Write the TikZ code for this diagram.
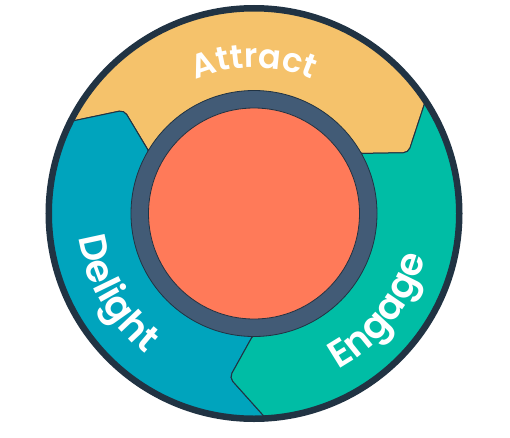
\documentclass[tikz,border=0pt]{standalone}
\usepackage{fontspec}
\setmainfont{Poppins}
\newfontfamily\lblfont{Poppins}[UprightFont=* SemiBold]
\usepackage{tikz}
\usetikzlibrary{decorations.text}
\definecolor{RimDark}{HTML}{213343}
\definecolor{HubSlate}{HTML}{425B76}
\definecolor{HubOrange}{HTML}{FF7A59}
\definecolor{AttractGold}{HTML}{F5C26B}
\definecolor{EngageGreen}{HTML}{00BDA5}
\definecolor{DelightTeal}{HTML}{00A4BD}
\newcommand{\Rout}{206}
\newcommand{\Rtip}{166}
\newcommand{\Rin}{120}
% one arrow-shaped band of the wheel: #1 = angle of its head, #2 = fill
\newcommand{\wheelseg}[2]{%
  \filldraw[seg,fill=#2] (#1+3.5:\Rout)
    arc[start angle=#1+3.5,end angle=#1+123.5,radius=\Rout]
    -- (#1+111.5:\Rtip) -- (#1+120:\Rin)
    arc[start angle=#1+120,end angle=#1,radius=\Rin]
    -- (#1-8.5:\Rtip) -- cycle;}
\tikzset{
  % Band of the wheel
  seg/.style={draw=RimDark,line width=1pt,rounded corners=5pt,line join=round},
  % Curved white label
  lbl/.style={decorate,decoration={text along path,text align=center,
              text color=white}},
}

\begin{document}
\begin{tikzpicture}[x=1pt,y=1pt]
  \useasboundingbox (-254,-223.5) rectangle (256,213.5);
  % bands
  \wheelseg{30}{AttractGold}
  \wheelseg{150}{DelightTeal}
  \wheelseg{270}{EngageGreen}
  % rim
  \draw[RimDark,line width=6.5pt] (0,0) circle[radius=205.25];
  % hub
  \filldraw[fill=HubSlate,draw=RimDark,line width=0.8pt] (0,0) circle[radius=123];
  \filldraw[fill=HubOrange,draw=RimDark,line width=0.8pt] (0,0) circle[radius=105.5];
  % labels
  \path[lbl,decoration={text={|\fontsize{33.5pt}{33.5pt}\lblfont|Attract}}]
    (130:146) arc[start angle=130,end angle=50,radius=146];
  \path[lbl,decoration={text={|\fontsize{38pt}{38pt}\lblfont|Delight}}]
    (165:177) arc[start angle=165,end angle=255,radius=177];
  \path[lbl,decoration={text={|\fontsize{38pt}{38pt}\lblfont|Engage}}]
    (277:177) arc[start angle=277,end angle=367,radius=177];
\end{tikzpicture}
\end{document}
